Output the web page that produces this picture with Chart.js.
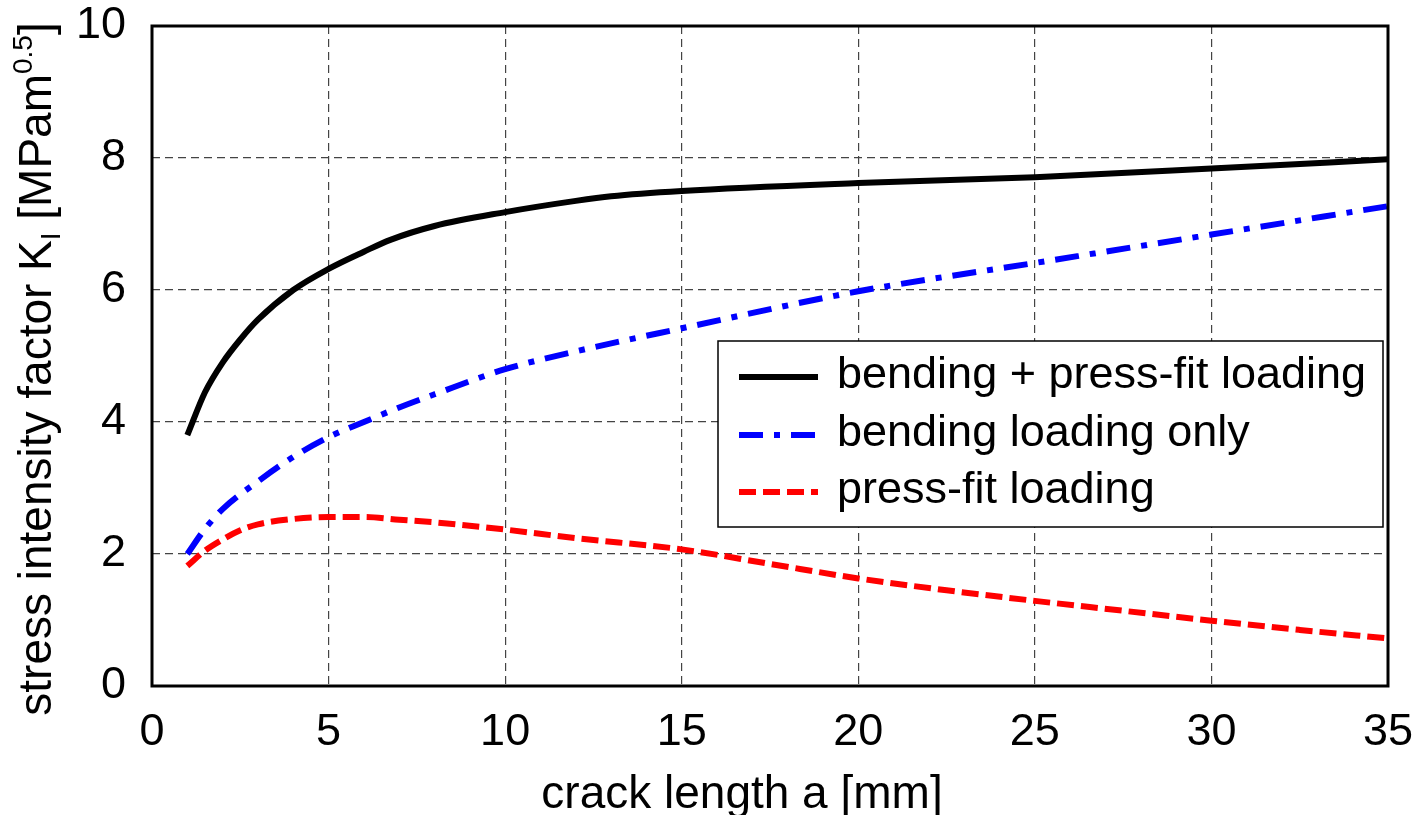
<!DOCTYPE html>
<html>
<head>
<meta charset="utf-8">
<script src="https://cdn.jsdelivr.net/npm/chart.js@4.4.1/dist/chart.umd.min.js"></script>
<style>
html,body{margin:0;padding:0;background:#fff;}
#wrap{width:1426px;height:815px;position:relative;}
</style>
</head>
<body>
<div id="wrap"><canvas id="c" width="1426" height="815"></canvas></div>
<script>
// ---- data ----
const xTicks = [0, 5, 10, 15, 20, 25, 30, 35];
const yTicks = [0, 2, 4, 6, 8, 10];

const combinedA = [1, 1.5, 2, 2.5, 3, 4, 5, 6, 6.75, 8, 10, 12, 13, 15, 20, 25, 30, 35];
const combinedK = [3.8, 4.45, 4.9, 5.25, 5.55, 6.0, 6.32, 6.58, 6.76, 6.97, 7.18, 7.35, 7.42, 7.5, 7.62, 7.71, 7.84, 7.98];

const bendingA = [1, 1.5, 2, 3, 4, 5, 6, 7, 8, 10, 12, 15, 20, 25, 30, 35];
const bendingK = [2.0, 2.38, 2.68, 3.1, 3.47, 3.77, 4.0, 4.22, 4.42, 4.8, 5.07, 5.42, 5.98, 6.41, 6.84, 7.27];

const pressA = [1, 1.5, 2, 2.5, 3, 4, 5, 6, 7, 8, 10, 12, 15, 17.5, 20, 22.5, 25, 27.5, 30, 32.5, 35];
const pressK = [1.82, 2.05, 2.22, 2.36, 2.45, 2.53, 2.56, 2.56, 2.52, 2.48, 2.37, 2.24, 2.07, 1.85, 1.63, 1.45, 1.29, 1.14, 0.99, 0.85, 0.72];

const seriesLabels = ['bending + press-fit loading', 'bending loading only', 'press-fit loading'];
const xTitle = 'crack length a [mm]';

function pts(xs, ys){ return xs.map((x,i)=>({x:x, y:ys[i]})); }

const FONT = '"Liberation Sans", Arial, sans-serif';

const framePlugin = {
  id: 'frame',
  afterDraw(chart){
    const {ctx, chartArea:a} = chart;
    ctx.save();
    ctx.strokeStyle = '#000';
    ctx.lineWidth = 3;
    ctx.strokeRect(a.left, a.top, a.right - a.left, a.bottom - a.top);

    // legend
    const lx = 718, ly = 341, lw = 665, lh = 186;
    ctx.fillStyle = '#fff';
    ctx.fillRect(lx, ly, lw, lh);
    ctx.lineWidth = 1.5;
    ctx.strokeStyle = '#000';
    ctx.strokeRect(lx, ly, lw, lh);
    const rows = [377, 435, 492];
    chart.data.datasets.forEach((ds, i) => {
      ctx.beginPath();
      ctx.strokeStyle = ds.borderColor;
      ctx.lineWidth = ds.borderWidth;
      ctx.setLineDash(ds.borderDash || []);
      ctx.moveTo(739, rows[i]);
      ctx.lineTo(818, rows[i]);
      ctx.stroke();
      ctx.setLineDash([]);
      ctx.fillStyle = '#000';
      ctx.font = '45px ' + FONT;
      ctx.textBaseline = 'middle';
      ctx.textAlign = 'left';
      ctx.fillText(ds.label, 837, rows[i] - 1);
    });

    // x title
    ctx.fillStyle = '#000';
    ctx.font = '46px ' + FONT;
    ctx.textAlign = 'center';
    ctx.textBaseline = 'alphabetic';
    ctx.fillText(xTitle, 742, 808);

    // y title with subscript and superscript
    const parts = [
      {t:'stress intensity factor K', s:46, dy:0},
      {t:'I', s:28, dy:9},
      {t:' [MPam', s:46, dy:0},
      {t:'0.5', s:28, dy:-19},
      {t:']', s:46, dy:0}
    ];
    let total = 0;
    parts.forEach(p => { ctx.font = p.s + 'px ' + FONT; p.w = ctx.measureText(p.t).width; total += p.w; });
    ctx.translate(51, 369);
    ctx.rotate(-Math.PI/2);
    ctx.textAlign = 'left';
    let x = -total/2;
    parts.forEach(p => {
      ctx.font = p.s + 'px ' + FONT;
      ctx.fillText(p.t, x, p.dy);
      x += p.w;
    });
    ctx.restore();
  }
};

function noPad(s){ s.paddingTop = 0; s.paddingBottom = 0; s.paddingLeft = 0; s.paddingRight = 0; }

new Chart(document.getElementById('c'), {
  type: 'line',
  data: {
    datasets: [
      { label: seriesLabels[0], data: pts(combinedA, combinedK), borderColor: '#000000', borderWidth: 6, pointRadius: 0, cubicInterpolationMode: 'monotone', fill: false },
      { label: seriesLabels[1], data: pts(bendingA, bendingK), borderColor: '#0000ff', borderWidth: 6, borderDash: [24, 11, 6, 11], pointRadius: 0, cubicInterpolationMode: 'monotone', fill: false },
      { label: seriesLabels[2], data: pts(pressA, pressK), borderColor: '#ff0000', borderWidth: 6, borderDash: [17, 7], pointRadius: 0, cubicInterpolationMode: 'monotone', fill: false }
    ]
  },
  options: {
    responsive: false,
    animation: false,
    layout: { padding: { left: 0, right: 38, top: 26, bottom: 0 } },
    plugins: { legend: { display: false }, tooltip: { enabled: false } },
    scales: {
      x: {
        type: 'linear', min: 0, max: 35,
        afterBuildTicks: s => { s.ticks = xTicks.map(v => ({value: v})); },
        afterFit: s => { s.height = 129; noPad(s); },
        grid: { color: '#444', lineWidth: 1.2, drawTicks: false },
        border: { display: false, dash: [8, 5] },
        ticks: { color: '#000', font: { family: FONT, size: 45 }, padding: 20, maxRotation: 0 }
      },
      y: {
        type: 'linear', min: 0, max: 10,
        afterBuildTicks: s => { s.ticks = yTicks.map(v => ({value: v})); },
        afterFit: s => { s.width = 152; noPad(s); },
        grid: { color: '#444', lineWidth: 1.2, drawTicks: false },
        border: { display: false, dash: [8, 5] },
        ticks: { color: '#000', font: { family: FONT, size: 45 }, padding: 26 }
      }
    }
  },
  plugins: [framePlugin]
});
</script>
</body>
</html>
